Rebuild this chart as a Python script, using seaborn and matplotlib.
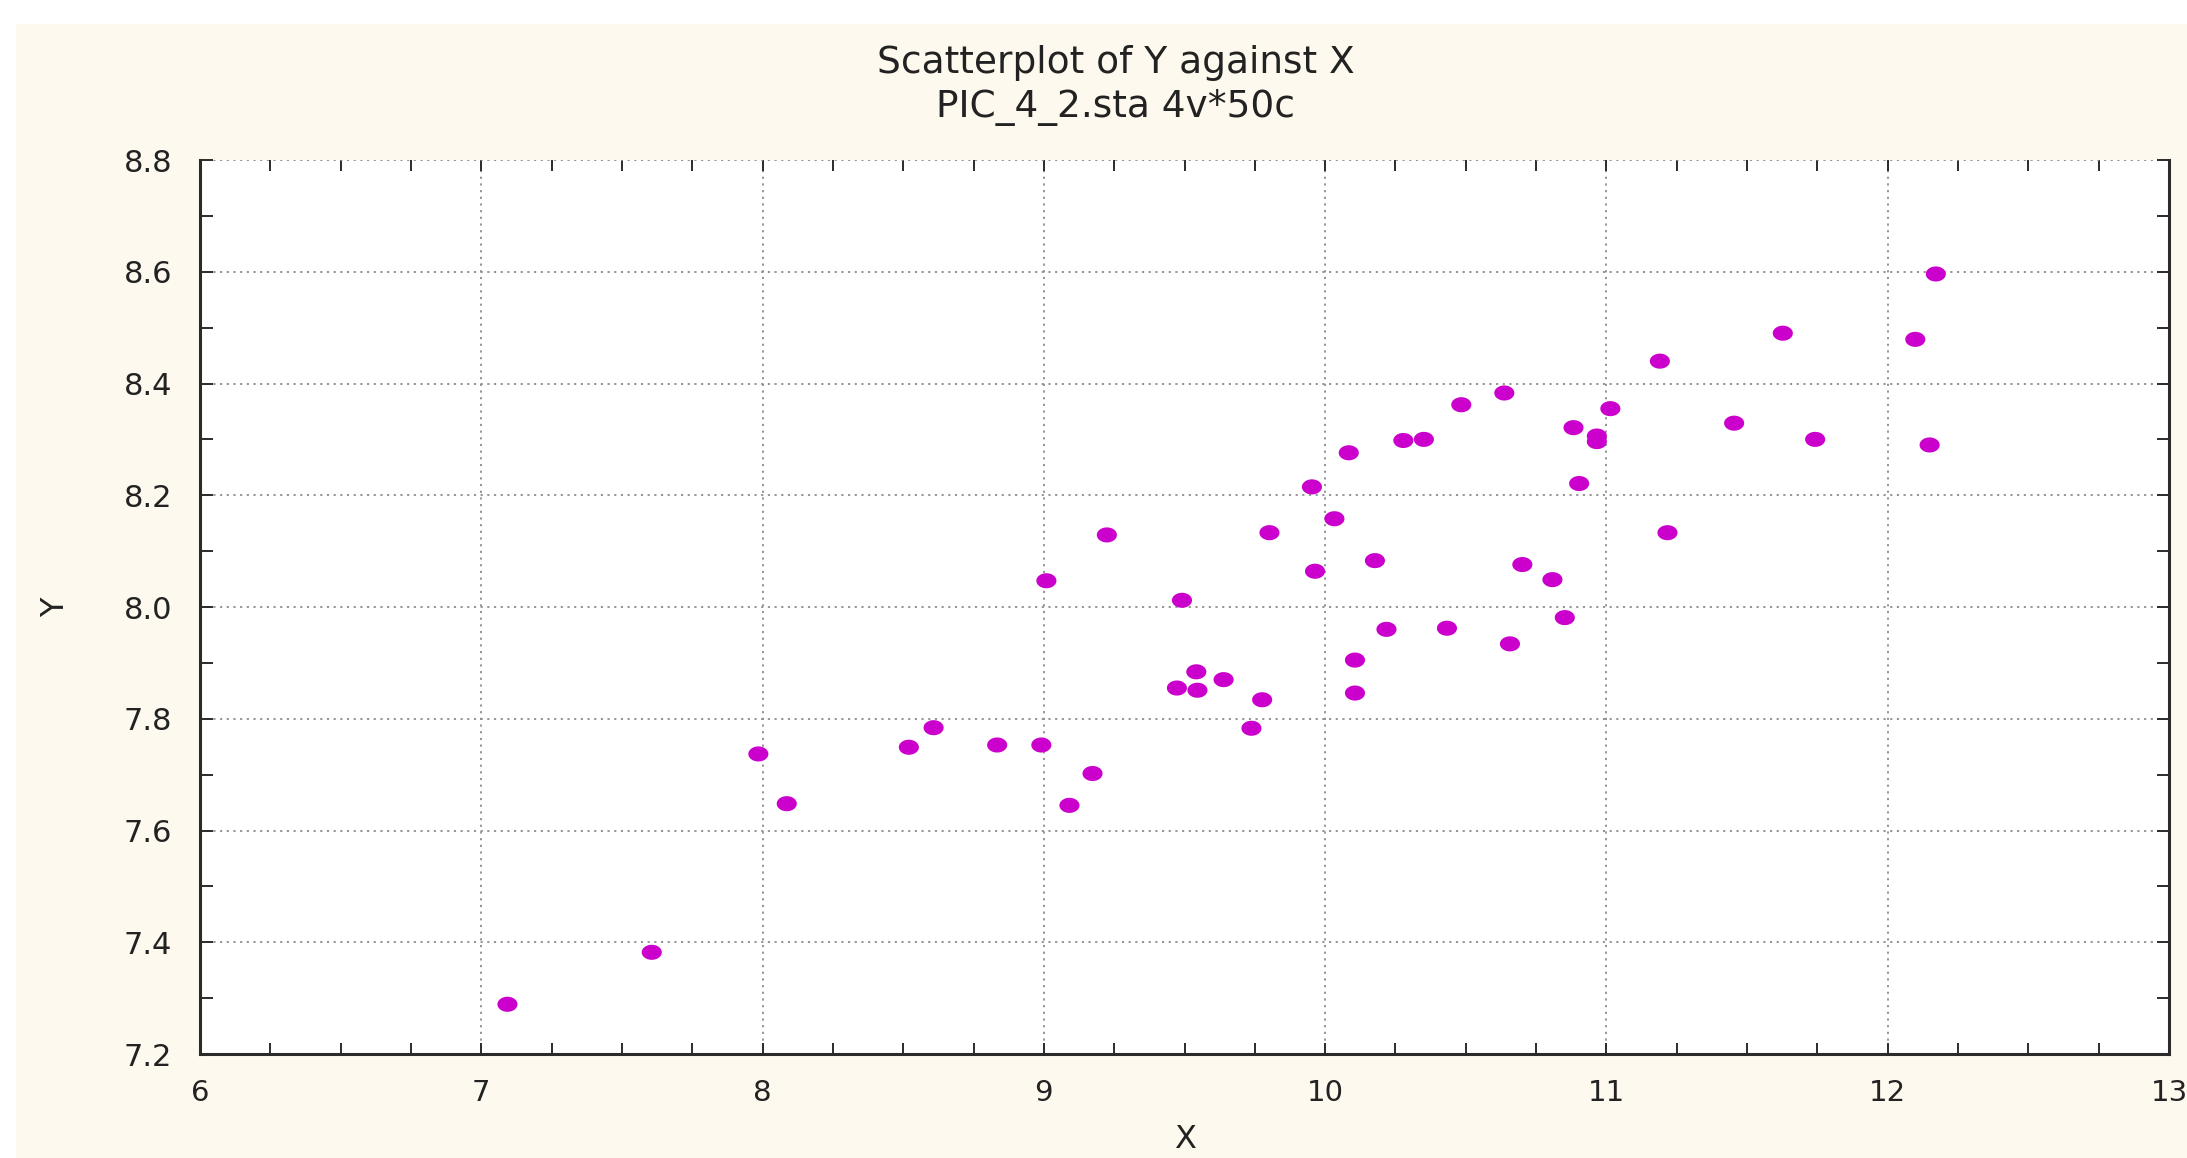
import numpy as np
import pandas as pd
import matplotlib
matplotlib.use("Agg")
import matplotlib.pyplot as plt
from matplotlib.path import Path
from matplotlib.patches import Rectangle
from matplotlib.ticker import MultipleLocator, FormatStrFormatter
import seaborn as sns

# ---- data ----
x_vals = [7.093, 7.606, 7.985, 8.086, 8.520, 8.608, 8.834, 8.991, 9.091, 9.173,
          9.009, 9.224, 9.491, 9.473, 9.546, 9.542, 12.171, 11.627, 12.098, 11.190,
          10.637, 10.484, 11.014, 11.454, 10.883, 10.278, 10.351, 10.966, 10.966, 11.742,
          12.149, 10.084, 10.903, 9.953, 10.033, 9.802, 11.217, 10.177, 9.964, 10.701,
          10.808, 10.852, 10.218, 10.433, 10.657, 10.106, 9.639, 9.776, 10.106, 9.738]
y_vals = [7.289, 7.382, 7.737, 7.648, 7.749, 7.784, 7.753, 7.753, 7.645, 7.702,
          8.047, 8.129, 8.012, 7.855, 7.851, 7.884, 8.596, 8.490, 8.479, 8.440,
          8.383, 8.362, 8.355, 8.329, 8.321, 8.298, 8.300, 8.296, 8.306, 8.300,
          8.290, 8.276, 8.221, 8.215, 8.158, 8.133, 8.133, 8.083, 8.064, 8.076,
          8.049, 7.981, 7.960, 7.962, 7.934, 7.905, 7.870, 7.834, 7.846, 7.783]
x_ticks = [6, 7, 8, 9, 10, 11, 12, 13]
y_ticks = [7.2, 7.4, 7.6, 7.8, 8.0, 8.2, 8.4, 8.6, 8.8]
title_lines = ["Scatterplot of Y against X", "PIC_4_2.sta 4v*50c"]
x_label = "X"
y_label = "Y"

df = pd.DataFrame({"X": x_vals, "Y": y_vals})

sns.set_theme(style="white")
plt.rcParams["font.family"] = ["DejaVu Sans"]

W, H = 2187, 1158
fig = plt.figure(figsize=(W / 100, H / 100), dpi=100, facecolor="white")
# cream panel behind everything
fig.patches.append(Rectangle((16 / W, 0), 1 - 16 / W, 1 - 24 / H, transform=fig.transFigure,
                             facecolor="#FEF9EE", edgecolor="none", zorder=-10))

ax = fig.add_axes([200 / W, 1 - 1054 / H, (2169 - 200) / W, (1054 - 160) / H])
ax.set_zorder(5)
ax.set_facecolor("white")

# elliptical marker (slightly wider than tall)
t = np.linspace(0, 2 * np.pi, 40)
ell = Path(np.column_stack([np.cos(t), 0.75 * np.sin(t)]), closed=True)

sns.scatterplot(data=df, x="X", y="Y", ax=ax, marker=ell, s=210,
                color="#CC00CC", edgecolor="none", linewidth=0, zorder=3)

ax.set_xlim(x_ticks[0], x_ticks[-1])
ax.set_ylim(y_ticks[0], y_ticks[-1])
ax.set_xticks(x_ticks)
ax.set_yticks(y_ticks)
ax.yaxis.set_major_formatter(FormatStrFormatter("%.1f"))
ax.xaxis.set_minor_locator(MultipleLocator(0.25))
ax.yaxis.set_minor_locator(MultipleLocator(0.1))

ax.grid(True, which="major", color="#8c8c8c", linestyle=(0, (1.2, 2.5)), linewidth=1.3, zorder=1)
ax.set_axisbelow(True)

for side in ["left", "right", "bottom"]:
    ax.spines[side].set_visible(True)
    ax.spines[side].set_color("#2b2b2b")
    ax.spines[side].set_linewidth(2.2)
ax.spines["top"].set_visible(False)

ax.tick_params(axis="both", which="both", direction="in", colors="#2b2b2b",
               top=True, right=True, bottom=True, left=True)
ax.tick_params(axis="y", which="major", length=9, width=1.4, labelsize=22, pad=20,
               labelcolor="#222222")
ax.tick_params(axis="y", which="minor", length=9, width=1.4)
ax.tick_params(axis="x", which="major", length=8, width=1.4, labelsize=21, pad=18,
               labelcolor="#222222")
ax.tick_params(axis="x", which="minor", length=8, width=1.4)

ax.set_xlabel(x_label, fontsize=23, color="#222222")
ax.set_ylabel(y_label, fontsize=23, color="#222222")
# place axis labels where the reference has them
ax.xaxis.set_label_coords(0.5, -(1140 - 1054) / (1054 - 160))
ax.xaxis.label.set_va("center")
ax.yaxis.set_label_coords(-(200 - 56) / (2169 - 200), 0.5)
ax.yaxis.label.set_va("center")

fig.text(1116 / W, 1 - 63 / H, title_lines[0], ha="center", va="center",
         fontsize=27, color="#222222")
fig.text(1116 / W, 1 - 107 / H, title_lines[1], ha="center", va="center",
         fontsize=27, color="#222222")

fig.savefig("out.png", dpi=100, facecolor=fig.get_facecolor())
